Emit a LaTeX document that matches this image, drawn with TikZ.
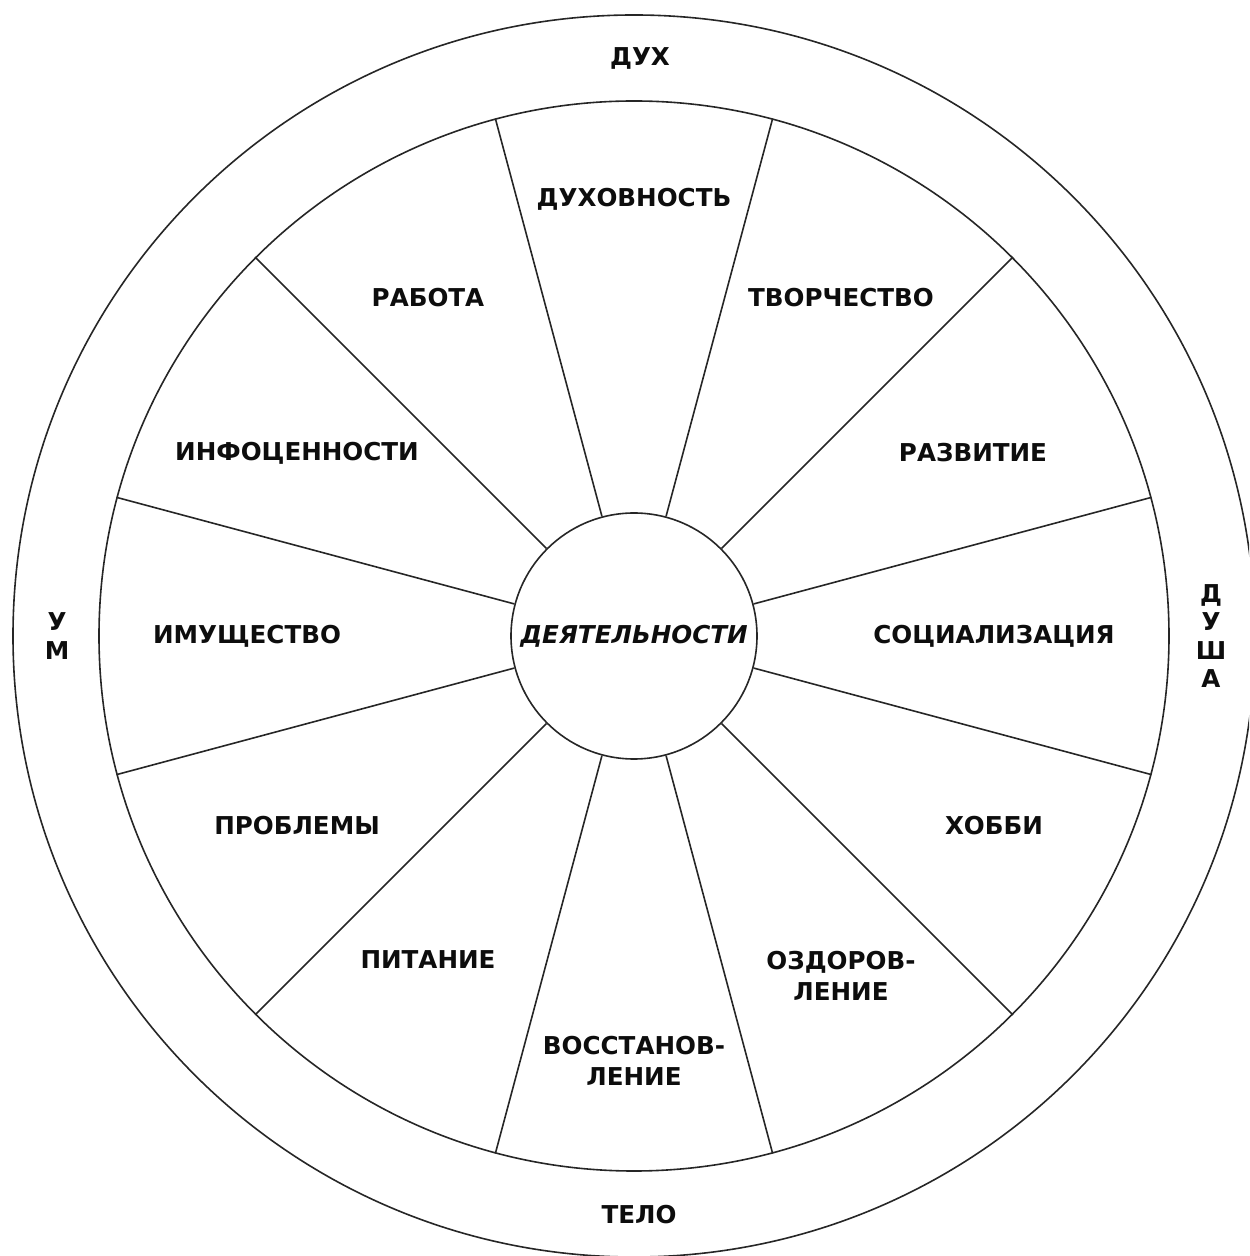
\documentclass[tikz,border=0pt]{standalone}
\usepackage{fontspec}
\setmainfont{DejaVu Sans}
\begin{document}
\begin{tikzpicture}[x=0.5pt,y=0.5pt,
  ring/.style={circle,draw=black!85,line width=0.8pt,inner sep=0pt},
  lbl/.style={font=\fontsize{12.3}{15.5}\selectfont\bfseries,text=black!95,align=center,inner sep=0pt},
  spoke/.style={draw=black!85,line width=0.8pt}]
\useasboundingbox (-634,-620) rectangle (615,636);
\clip (-634,-620) rectangle (615,636);
\node[ring,minimum size=621pt] (outer) at (0,0) {};
\node[ring,minimum size=535pt] (rim) at (0,0) {};
\node[ring,minimum size=123pt] (hub) at (0,0) {};
\foreach \a in {15,45,...,345} \draw[spoke] (hub.\a) -- (rim.\a);
\node[lbl,font=\fontsize{12.3}{15.5}\selectfont\bfseries\itshape] (act) at (0,0) {ДЕЯТЕЛЬНОСТИ};
\node[lbl] (s1) at (0,437) {ДУХОВНОСТЬ};
\node[lbl] (s2) at (207,338) {ТВОРЧЕСТВО};
\node[lbl] (s3) at (339,183) {РАЗВИТИЕ};
\node[lbl] (s4) at (360,0) {СОЦИАЛИЗАЦИЯ};
\node[lbl] (s5) at (360,-190) {ХОББИ};
\node[lbl] (s6) at (207,-340) {ОЗДОРОВ-\\ЛЕНИЕ};
\node[lbl] (s7) at (0,-425) {ВОССТАНОВ-\\ЛЕНИЕ};
\node[lbl] (s8) at (-206,-324) {ПИТАНИЕ};
\node[lbl] (s9) at (-337,-190) {ПРОБЛЕМЫ};
\node[lbl] (s10) at (-387,0) {ИМУЩЕСТВО};
\node[lbl] (s11) at (-337,183) {ИНФОЦЕННОСТИ};
\node[lbl] (s12) at (-206,338) {РАБОТА};
\node[lbl] (top) at (6,578) {ДУХ};
\node[lbl] (bot) at (5,-579) {ТЕЛО};
\node[lbl,font=\fontsize{12.3}{14.5}\selectfont\bfseries] (left) at (-577,0) {У\\М};
\node[lbl,font=\fontsize{12.3}{14.2}\selectfont\bfseries] (right) at (577,0) {Д\\У\\Ш\\А};
\end{tikzpicture}
\end{document}
